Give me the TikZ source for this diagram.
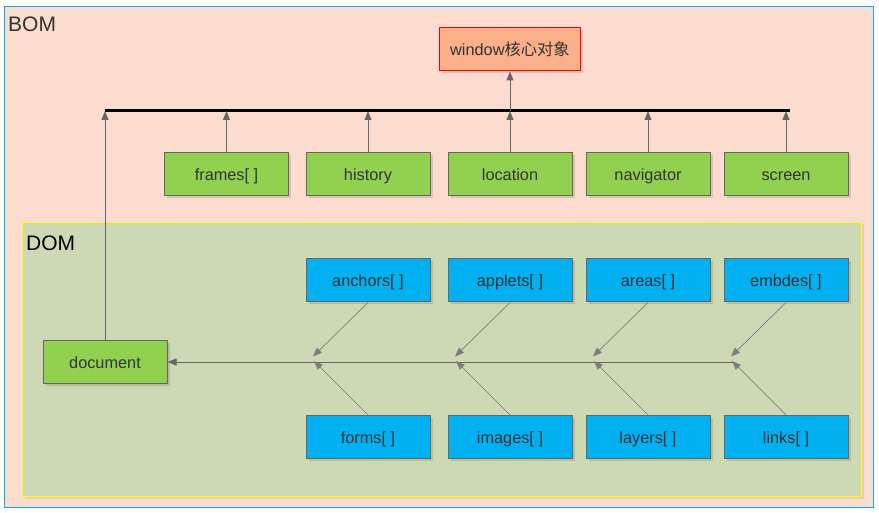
\documentclass[tikz,border=0pt]{standalone}
\usepackage{fontspec}
\setmainfont{Liberation Sans}
\newfontfamily\cjk{Noto Sans CJK SC}
\usetikzlibrary{arrows.meta,shadows}
\definecolor{bomfill}{HTML}{FDDCD0}
\definecolor{bomline}{HTML}{00B0F0}
\definecolor{domfill}{HTML}{CDD9B4}
\definecolor{domline}{HTML}{FFFF00}
\definecolor{greenbox}{HTML}{92D050}
\definecolor{bluebox}{HTML}{00B0F0}
\definecolor{winfill}{HTML}{FBB08A}
\definecolor{edge}{HTML}{666666}
\definecolor{txt}{HTML}{333333}
\tikzset{
  box/.style={rectangle, draw=edge, line width=1pt, minimum width=124pt, minimum height=43pt, inner sep=0pt,
    text height=14pt, text depth=1pt,
    text=txt, font=\fontsize{16.3}{19}\selectfont,
    drop shadow={shadow xshift=2.5pt, shadow yshift=-2.5pt, fill=black, opacity=0.12}},
  gbox/.style={box, fill=greenbox},
  bbox/.style={box, fill=bluebox},
  arr/.style={draw=edge, line width=1pt, -{Triangle[length=9pt,width=7pt]}},
  darr/.style={draw=edge!85, line width=0.7pt, -{Triangle[length=9pt,width=7pt]}},
  title/.style={anchor=west, inner sep=0pt, font=\fontsize{21}{25}\selectfont},
}
\begin{document}
\begin{tikzpicture}[x=1pt,y=-1pt]
\useasboundingbox (0,0) rectangle (879,513);
\fill[white] (0,0) rectangle (879,513);
% BOM frame
\draw[fill=bomfill, draw=bomline, line width=1pt] (4.5,6.5) rectangle (873.5,507.5);
\node[title, text=txt] (bomlabel) at (8,24) {BOM};
% DOM frame
\draw[fill=domfill, draw=domline, line width=1.2pt, drop shadow={shadow xshift=2pt, shadow yshift=-2pt, fill=black, opacity=0.08}] (22.5,222.5) rectangle (861.5,496.5);
\node[title, text=black] (domlabel) at (26,243) {DOM};
% window
\node[box, fill=winfill, draw=red, minimum width=141pt] (window) at (510,49.5) {window{\cjk 核心对象}};
% bus
\coordinate (busL) at (105,111);
\coordinate (busR) at (790,111);
\draw[black, line width=3pt] (busL) -- (busR);
% BOM children
\node[gbox] (frames) at (226.5,174.5) {frames[ ]};
\node[gbox] (history) at (368,174.5) {history};
\node[gbox] (location) at (510,174.5) {location};
\node[gbox] (navigator) at (648,174.5) {navigator};
\node[gbox] (screen) at (786,174.5) {screen};
\foreach \n in {frames,history,location,navigator,screen}
  \draw[arr] (\n.north) -- (\n.north |- busL);
\draw[arr] (window.south |- busL) -- (window.south);
% document
\node[gbox] (document) at (105,362) {document};
\draw[arr] (document.north) -- (document.north |- busL);
% DOM children
\node[bbox] (anchors) at (368,280.5) {anchors[ ]};
\node[bbox] (applets) at (510,280.5) {applets[ ]};
\node[bbox] (areas) at (648,280.5) {areas[ ]};
\node[bbox] (embdes) at (786,280.5) {embdes[ ]};
\node[bbox] (forms) at (368,437) {forms[ ]};
\node[bbox] (images) at (510,437) {images[ ]};
\node[bbox] (layers) at (648,437) {layers[ ]};
\node[bbox] (links) at (786,437) {links[ ]};
\coordinate (hend) at (735,362);
\draw[arr] (hend) -- (document.east);
\coordinate (t1) at (313,356.5);
\coordinate (t2) at (455,356.5);
\coordinate (t3) at (593,356.5);
\coordinate (t4) at (731,356.5);
\coordinate (u1) at (314,361);
\coordinate (u2) at (456,361);
\coordinate (u3) at (594,361);
\coordinate (u4) at (732,361);
\draw[darr] (anchors.south) -- (t1);
\draw[darr] (applets.south) -- (t2);
\draw[darr] (areas.south) -- (t3);
\draw[darr] (embdes.south) -- (t4);
\draw[darr] (forms.north) -- (u1);
\draw[darr] (images.north) -- (u2);
\draw[darr] (layers.north) -- (u3);
\draw[darr] (links.north) -- (u4);
\end{tikzpicture}
\end{document}
